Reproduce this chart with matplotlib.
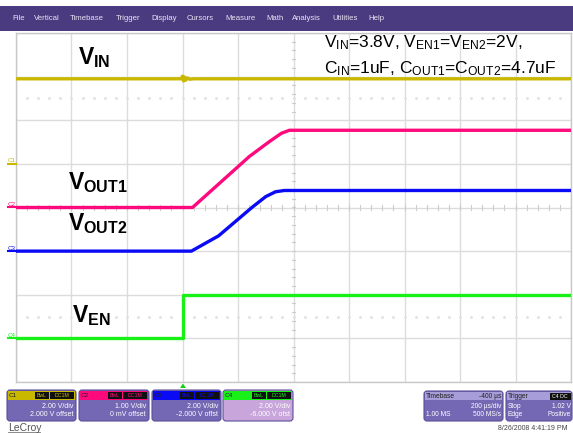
import numpy as np
import matplotlib
matplotlib.use("Agg")
import matplotlib.pyplot as plt
from matplotlib.patches import Rectangle, FancyBboxPatch, Polygon

plt.rcParams['font.family'] = ['Liberation Sans', 'DejaVu Sans']
plt.rcParams['mathtext.fontset'] = 'custom'
plt.rcParams['mathtext.rm'] = 'Liberation Sans'
plt.rcParams['mathtext.bf'] = 'Liberation Sans:bold'
plt.rcParams['mathtext.it'] = 'Liberation Sans:italic'

# ---------------- data (time in microseconds, voltages in volts) ----------------
vin_t = [-600, -4, 0, 4, 8, 12, 18, 26, 40, 1400]
vin_v = [3.9, 3.9, 4.02, 3.8, 3.98, 3.84, 3.94, 3.88, 3.9, 3.9]

vout1_t = [-600, 36, 241, 313, 356, 385, 1400]
vout1_v = [0.0, 0.0, 1.17, 1.51, 1.70, 1.77, 1.77]

vout2_t = [-600, 32, 130, 250, 300, 335, 367, 1400]
vout2_v = [0.0, 0.0, 0.7, 2.0, 2.5, 2.72, 2.78, 2.78]

ven_t = [-600, 0, 0, 1400]
ven_v = [0.0, 0.0, 2.0, 2.0]

# channel settings: volts/div and offset
ch_names = ["C1", "C2", "C3", "C4"]
ch_scale = [2.0, 1.0, 2.0, 2.0]
ch_offset = [2.0, 0.0, -2.0, -6.0]
ch_colors = ["#C8B800", "#FF0A7C", "#0A0AF5", "#18F018"]
ch_vdiv_text = ["2.00 V/div", "1.00 V/div", "2.00 V/div", "2.00 V/div"]
ch_offs_text = ["2.000 V offset", "0 mV offset", "-2.000 V offst", "-6.000 V ofst"]

menu_items = ["File", "Vertical", "Timebase", "Trigger", "Display", "Cursors",
              "Measure", "Math", "Analysis", "Utilities", "Help"]
menu_x = [12, 34, 70, 116, 151, 187, 225, 266, 292, 332, 368]

W, H = 573, 433


def fx(x):
    return x / W


def fy(y):
    return 1 - y / H


fig = plt.figure(figsize=(W / 100, H / 100), dpi=100)
fig.patch.set_facecolor("white")

# ---------------- scope graticule ----------------
ax = fig.add_axes([fx(16), fy(382), (571 - 16) / W, (382 - 33) / H])
ax.set_xlim(-600, 1400)
ax.set_ylim(-4, 4)
ax.set_xticks(np.arange(-600, 1401, 200))
ax.set_yticks(np.arange(-4, 5, 1))
ax.grid(True, color="#DCDCDC", lw=1.0)
ax.tick_params(length=0, labelbottom=False, labelleft=False)
for s in ax.spines.values():
    s.set_color("#C8C8C8")
    s.set_linewidth(1.0)
ax.set_axisbelow(True)

# center cross minor ticks
for t in np.arange(-600, 1401, 40):
    ax.plot([t, t], [-0.05, 0.05], color="#CCCCCC", lw=0.8, zorder=1)
for v in np.arange(-4, 4.01, 0.2):
    ax.plot([393, 407], [v, v], color="#CCCCCC", lw=0.8, zorder=1)
# dotted reference rows
dot_t = np.arange(-560, 1400, 40)
for lev in (2.5, -2.5):
    ax.plot(dot_t, np.full_like(dot_t, lev, dtype=float), ls="none", marker="s",
            ms=0.9, color="#E0E0E0", zorder=1)


def to_div(v, i):
    return (np.asarray(v, dtype=float) + ch_offset[i]) / ch_scale[i]


traces = [(vin_t, vin_v), (vout1_t, vout1_v), (vout2_t, vout2_v), (ven_t, ven_v)]
for i, (t, v) in enumerate(traces):
    ax.plot(t, to_div(v, i), color=ch_colors[i], lw=2.4, solid_joinstyle="round",
            zorder=3, clip_on=True)

# ---------------- labels ----------------
fig.text(fx(78), fy(64), r"$\mathbf{V}_{\mathbf{IN}}$", fontsize=16.5, color="black")
fig.text(fx(68), fy(189), r"$\mathbf{V}_{\mathbf{OUT1}}$", fontsize=16.5, color="black")
fig.text(fx(68), fy(230), r"$\mathbf{V}_{\mathbf{OUT2}}$", fontsize=16.5, color="black")
fig.text(fx(72), fy(322), r"$\mathbf{V}_{\mathbf{EN}}$", fontsize=16.5, color="black")

fig.text(fx(324), fy(47),
         r"$\mathrm{V}_{\mathrm{IN}}$=3.8V, $\mathrm{V}_{\mathrm{EN1}}$=$\mathrm{V}_{\mathrm{EN2}}$=2V,",
         fontsize=12.5, color="black")
fig.text(fx(324), fy(73),
         r"$\mathrm{C}_{\mathrm{IN}}$=1uF, $\mathrm{C}_{\mathrm{OUT1}}$=$\mathrm{C}_{\mathrm{OUT2}}$=4.7uF",
         fontsize=12.5, color="black")

# ---------------- channel ground markers on the left ----------------
for i in range(4):
    ypix = 207.5 - to_div(0.0, i) * 43.6
    fig.add_artist(plt.Line2D([fx(8), fx(16)], [fy(ypix), fy(ypix)], color=ch_colors[i],
                              lw=1.5, transform=fig.transFigure))
    fig.text(fx(8), fy(ypix - 1.5), ch_names[i], fontsize=4.5, color=ch_colors[i])

# ---------------- menu bar ----------------
fig.add_artist(Rectangle((0, fy(31)), 1, (31 - 6) / H, transform=fig.transFigure,
                         facecolor="#4A3B80", edgecolor="none"))
for name, x in zip(menu_items, menu_x):
    fig.text(fx(x), fy(18.5), name, fontsize=5.6, color="#E8E4F4", va="center")

# ---------------- bottom info panel ----------------
def rbox(x0, y0, x1, y1, fc, ec="#5A4E9A", r=3):
    fig.add_artist(FancyBboxPatch((fx(x0), fy(y1)), (x1 - x0) / W, (y1 - y0) / H,
                                  boxstyle=f"round,pad=0,rounding_size={r / W}",
                                  transform=fig.transFigure, facecolor=fc,
                                  edgecolor=ec, lw=0.8, mutation_aspect=W / H))


def rect(x0, y0, x1, y1, fc):
    fig.add_artist(Rectangle((fx(x0), fy(y1)), (x1 - x0) / W, (y1 - y0) / H,
                             transform=fig.transFigure, facecolor=fc, edgecolor="none"))


box_x = [(7, 76), (79, 149), (152, 221), (223, 293)]
for i, (x0, x1) in enumerate(box_x):
    body = "#C8A6DC" if i == 3 else "#7467B4"
    rbox(x0, 390, x1, 421, body)
    rect(x0 + 1, 391, x1 - 1, 399.5, ch_colors[i])
    fig.text(fx(x0 + 2), fy(395.5), ch_names[i], fontsize=4.6, color="#202020", va="center")
    rect(x1 - 41, 392, x1 - 27, 398.5, "#101010")
    rect(x1 - 26, 392, x1 - 2, 398.5, "#101010")
    fig.text(fx(x1 - 34), fy(395.5), "BwL", fontsize=3.8, color=ch_colors[i],
             ha="center", va="center")
    fig.text(fx(x1 - 14), fy(395.5), "DC1M", fontsize=3.8, color=ch_colors[i],
             ha="center", va="center")
    fig.text(fx(x1 - 3), fy(406), ch_vdiv_text[i], fontsize=5, color="white",
             ha="right", va="center")
    fig.text(fx(x1 - 3), fy(414.5), ch_offs_text[i], fontsize=5, color="white",
             ha="right", va="center")

# timebase box
rbox(424, 391, 503, 421, "#7467B4")
rect(425, 392, 502, 400, "#A79DD8")
fig.text(fx(426), fy(396), "Timebase", fontsize=4.8, color="#202020", va="center")
fig.text(fx(501), fy(396), "-400 µs", fontsize=4.8, color="#202020", va="center", ha="right")
fig.text(fx(501), fy(406.5), "200 µs/div", fontsize=4.8, color="white", va="center", ha="right")
fig.text(fx(426), fy(415), "1.00 MS", fontsize=4.8, color="white", va="center")
fig.text(fx(501), fy(415), "500 MS/s", fontsize=4.8, color="white", va="center", ha="right")

# trigger box
rbox(506, 391, 572, 421, "#7467B4")
rect(507, 392, 571, 400, "#A79DD8")
fig.text(fx(508), fy(396), "Trigger", fontsize=4.8, color="#202020", va="center")
rect(550, 392.5, 571, 399.5, "#101010")
fig.text(fx(560), fy(396), "C4 DC", fontsize=3.8, color="white", va="center", ha="center")
fig.text(fx(508), fy(406.5), "Stop", fontsize=4.8, color="white", va="center")
fig.text(fx(571), fy(406.5), "1.02 V", fontsize=4.8, color="white", va="center", ha="right")
fig.text(fx(508), fy(415), "Edge", fontsize=4.8, color="white", va="center")
fig.text(fx(571), fy(415), "Positive", fontsize=4.8, color="white", va="center", ha="right")

# trigger position marker
fig.add_artist(Polygon([[fx(180), fy(388)], [fx(186), fy(388)], [fx(183), fy(383.5)]],
                       closed=True, transform=fig.transFigure, facecolor="#18D018",
                       edgecolor="none"))

fig.text(fx(8), fy(431), "LeCroy", fontsize=7.5, color="#555555")
fig.add_artist(plt.Line2D([fx(8), fx(40)], [fy(432), fy(432)], color="#777777", lw=0.6,
                          transform=fig.transFigure))
fig.text(fx(568), fy(430), "8/26/2008 4:41:19 PM", fontsize=5, color="#444444", ha="right")

fig.savefig("out.png", dpi=100)
